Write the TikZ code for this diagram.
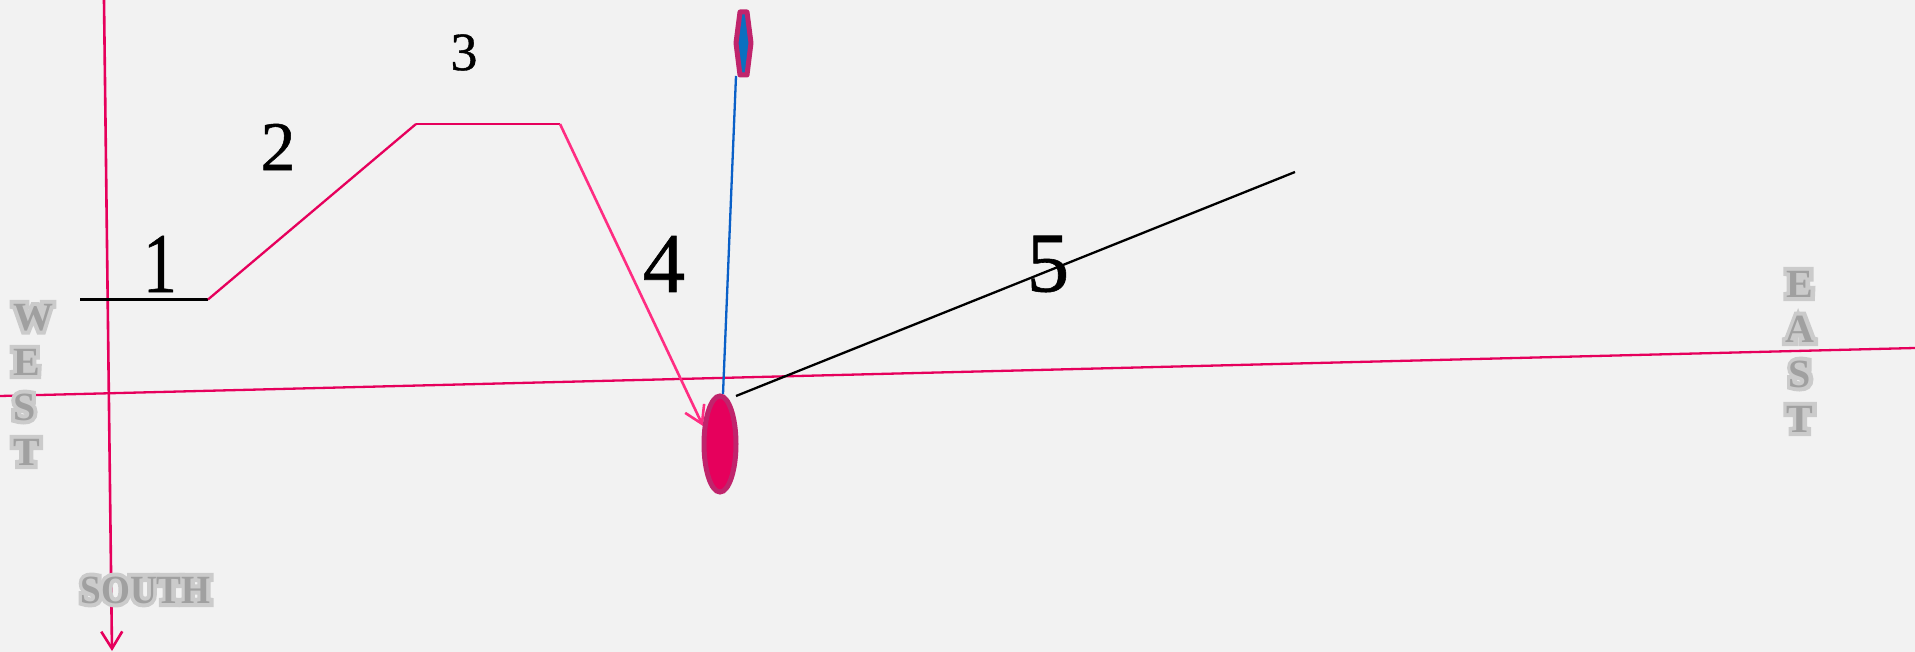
\documentclass[tikz,border=0pt]{standalone}
\usepackage{fontspec}
\setmainfont[FakeBold=0.7]{Liberation Serif}
\newfontfamily\embfat[FakeBold=20]{Liberation Serif Bold}
\newfontfamily\embthin{Liberation Serif Bold}
\usetikzlibrary{arrows.meta,shapes.geometric}
\definecolor{bgc}{HTML}{F2F2F2}
\definecolor{redl}{HTML}{E6005C}
\definecolor{pinkl}{HTML}{FF2D82}
\definecolor{bluel}{HTML}{0A60C8}
\definecolor{edgec}{HTML}{C0246C}
\definecolor{bluef}{HTML}{0A70C0}
\definecolor{embl}{HTML}{CBCBCB}
\definecolor{embd}{HTML}{A0A0A0}
\newcommand{\emb}[1]{\leavevmode\rlap{\embfat\color{embl}#1}{\embthin\color{embd}#1}}
\tikzset{
  conn/.style={line width=2.3pt,line join=round},
  barb/.style={-{Straight Barb[length=17pt,width=21pt,line width=2.6pt]}},
  num/.style={inner sep=0pt,text=black},
  numbig/.style={num,font=\fontsize{85}{85}\selectfont},
  embword/.style={inner sep=0pt,font=\fontsize{40}{45}\selectfont},
}
\begin{document}
\begin{tikzpicture}[x=1pt,y=-1pt]
\useasboundingbox (0,0) rectangle (1915,652);
\fill[bgc] (0,0) rectangle (1915,652);
\coordinate (hl) at (0,396);
\coordinate (hr) at (1915,348);
\coordinate (vt) at (104,0);
\coordinate (vb) at (112,651);
\coordinate (a) at (80,299.5);
\coordinate (b) at (208,299.5);
\coordinate (c) at (416,124);
\coordinate (d) at (560,124);
\coordinate (e) at (703,426);
\coordinate (f) at (723,394);
\coordinate (g) at (736,76);
\coordinate (h) at (736,396);
\coordinate (i) at (1295,172);
\draw[conn,redl] (hl) -- (hr);
\node[embword,align=left,anchor=center] (west) at (33,384.5) {\emb{W}\\\emb{E}\\\emb{S}\\\emb{T}};
\node[embword,align=center,anchor=center] (east) at (1800,351.5) {\emb{E}\\\emb{A}\\\emb{S}\\\emb{T}};
\draw[conn,redl,line width=2.6pt,barb] (vt) -- (vb);
\node[embword,xscale=.93] (south) at (145.5,590) {\emb{SOUTH}};
\draw[conn,black] (a) -- (b);
\draw[conn,redl] (b) -- (c);
\draw[conn,redl] (c) -- (d);
\draw[conn,pinkl,line width=2.6pt,barb] (d) -- (e);
\draw[conn,bluel] (f) -- (g);
\draw[conn,black] (h) -- (i);
\node[ellipse,draw=edgec,fill=redl,line width=5pt,minimum width=32pt,minimum height=96pt,inner sep=0pt] (oval) at (720,444) {};
\draw[draw=edgec,fill=bluef,line width=5pt,line join=round] (740,12) -- (747,12) -- (751,43) -- (747,75) -- (740,75) -- (736,43) -- cycle;
\node[numbig,xscale=.8] (n1) at (160,264) {1};
\node[num,font=\fontsize{70}{70}\selectfont] (n2) at (278,147) {2};
\node[num,font=\fontsize{54}{54}\selectfont] (n3) at (464,52.5) {3};
\node[numbig] (n4) at (664,264) {4};
\node[numbig] (n5) at (1048,264) {5};
\end{tikzpicture}
\end{document}
